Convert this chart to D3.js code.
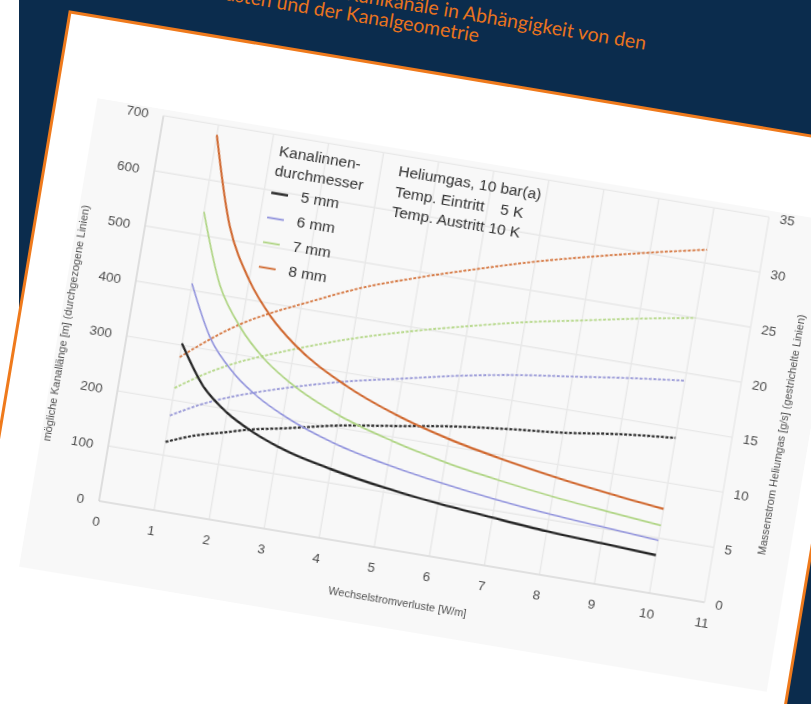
<!DOCTYPE html>
<html>
<head>
<meta charset="utf-8">
<script src="https://cdn.jsdelivr.net/npm/d3@7"></script>
<style>
  html, body { margin: 0; padding: 0; background: #ffffff; }
  svg { display: block; }
</style>
</head>
<body>
<svg id="chart" width="811" height="704"></svg>
<script>
// Wechselstromverluste [W/m]
const lossValues = [1, 1.5, 2, 2.5, 3, 4, 5, 6, 7, 8, 9, 10];

// mögliche Kanallänge [m] per inner diameter (solid lines)
const length5mm = [303, 234, 194, 168, 149, 125, 108, 96, 87, 79, 74, 69];
const length6mm = [412, 319, 266, 231, 206, 171, 149, 133, 120, 110, 103, 96];
const length7mm = [542, 417, 347, 300, 267, 222, 193, 171, 155, 142, 132, 123];
const length8mm = [682, 524, 435, 376, 334, 278, 240, 213, 193, 177, 164, 153];

// Massenstrom Heliumgas [g/s] per inner diameter (dashed lines)
const flow5mm = [6.2, 7.2, 7.9, 8.6, 9.1, 10.2, 11.0, 11.8, 12.4, 12.9, 13.6, 14.1];
const flow6mm = [8.6, 10.0, 11.1, 12.0, 12.8, 14.2, 15.3, 16.4, 17.3, 18.0, 18.7, 19.3];
const flow7mm = [11.1, 12.8, 14.2, 15.3, 16.3, 18.1, 19.6, 20.9, 22.1, 23.1, 24.1, 25.0];
const flow8mm = [13.9, 16.0, 17.8, 19.2, 20.4, 22.7, 24.5, 26.1, 27.6, 28.9, 30.1, 31.2];

const diameterLabels = ["5 mm", "6 mm", "7 mm", "8 mm"];
const seriesColors = ["#262626", "#8f91dc", "#aed482", "#d0672f"];
const dashColors = ["#333333", "#9c9cd8", "#b8d98e", "#d67a45"];

const xTicks = [0, 1, 2, 3, 4, 5, 6, 7, 8, 9, 10, 11];
const yLeftTicks = [0, 100, 200, 300, 400, 500, 600, 700];
const yRightTicks = [0, 5, 10, 15, 20, 25, 30, 35];

const titleLines = [
  "Mögliche Länge der Kühlkanäle in Abhängigkeit von den",
  "Wechselstromverlusten und der Kanalgeometrie"
];
const infoLines = ["Heliumgas, 10 bar(a)", "Temp. Eintritt", "Temp. Austritt 10 K"];

const lengthSeries = [length5mm, length6mm, length7mm, length8mm];
const flowSeries = [flow5mm, flow6mm, flow7mm, flow8mm];

const svg = d3.select("#chart");

// page background: white margin strip and navy panel
svg.append("rect").attr("x", 0).attr("y", 0).attr("width", 811).attr("height", 704).attr("fill", "#ffffff");
svg.append("rect").attr("x", 19).attr("y", 0).attr("width", 792).attr("height", 704).attr("fill", "#0b2c4d");

// blur for the printed chart
const defs = svg.append("defs");
defs.append("filter").attr("id", "soft")
  .attr("x", "-5%").attr("y", "-5%").attr("width", "110%").attr("height", "110%")
  .append("feGaussianBlur").attr("stdDeviation", 0.75);

// everything sits on a tilted sheet
const sheet = svg.append("g").attr("transform", "translate(99,501) rotate(9.5)");

// title on navy
sheet.append("g").selectAll("text").data(titleLines).join("text")
  .attr("x", (d, i) => i === 0 ? 464 : 298)
  .attr("y", (d, i) => i === 0 ? -535 : -515)
  .attr("text-anchor", "end")
  .attr("font-family", "Lato, 'Noto Sans', sans-serif")
  .attr("font-size", 19.5)
  .attr("fill", "#e8731e")
  .text(d => d);

// white card with orange border
sheet.append("rect")
  .attr("x", -109.3).attr("y", -477.5)
  .attr("width", 820).attr("height", 1000)
  .attr("fill", "#ffffff")
  .attr("stroke", "#ef7a1c").attr("stroke-width", 3);

const plot = sheet.append("g").attr("filter", "url(#soft)");

// faint chart image background
plot.append("rect")
  .attr("x", -68).attr("y", -397)
  .attr("width", 758).attr("height", 475)
  .attr("fill", "#f8f8f8");

const x = d3.scaleLinear().domain([0, 11]).range([0, 614]);
const yL = d3.scaleLinear().domain([0, 700]).range([0, -390.6]);
const yR = d3.scaleLinear().domain([0, 35]).range([0, -390.6]);

// grid
plot.append("g").selectAll("line").data(xTicks).join("line")
  .attr("x1", d => x(d)).attr("x2", d => x(d))
  .attr("y1", yL(0)).attr("y2", yL(700))
  .attr("stroke", "#e8e8e8").attr("stroke-width", 1.4);
plot.append("g").selectAll("line").data(yLeftTicks).join("line")
  .attr("x1", x(0)).attr("x2", x(11))
  .attr("y1", d => yL(d)).attr("y2", d => yL(d))
  .attr("stroke", "#e8e8e8").attr("stroke-width", 1.4);

// axis lines
plot.append("line").attr("x1", 0).attr("x2", 0).attr("y1", yL(0)).attr("y2", yL(700))
  .attr("stroke", "#d4d4d4").attr("stroke-width", 1.2);
plot.append("line").attr("x1", 0).attr("x2", x(11)).attr("y1", 0).attr("y2", 0)
  .attr("stroke", "#d4d4d4").attr("stroke-width", 1.2);

// axes
const tickFont = g => {
  g.select(".domain").remove();
  g.selectAll("text").attr("font-family", "'Liberation Sans', Arial, sans-serif")
    .attr("font-size", 13.5).attr("fill", "#4e4e4e");
};
plot.append("g")
  .call(d3.axisBottom(x).tickValues(xTicks).tickSize(0).tickPadding(15).tickFormat(d3.format("d")))
  .call(tickFont);
plot.append("g")
  .call(d3.axisLeft(yL).tickValues(yLeftTicks).tickSize(0).tickPadding(15).tickFormat(d3.format("d")))
  .call(tickFont);
plot.append("g").attr("transform", `translate(${x(11)},0)`)
  .call(d3.axisRight(yR).tickValues(yRightTicks).tickSize(0).tickPadding(11).tickFormat(d3.format("d")))
  .call(tickFont);

// axis titles
const axisTitle = (sel) => sel.attr("font-family", "'Liberation Sans', Arial, sans-serif")
  .attr("font-size", 11).attr("fill", "#505050").attr("text-anchor", "middle");
plot.append("text").call(axisTitle)
  .attr("transform", "translate(-58,-170) rotate(-90)")
  .text("mögliche Kanallänge [m] (durchgezogene Linien)");
plot.append("text").call(axisTitle)
  .attr("transform", "translate(666,-178) rotate(-90)")
  .text("Massenstrom Heliumgas [g/s] (gestrichelte Linien)");
plot.append("text").call(axisTitle)
  .attr("x", 311).attr("y", 54)
  .text("Wechselstromverluste [W/m]");

// dashed mass-flow lines
const flowLine = d3.line().x((d, i) => x(lossValues[i])).y(d => yR(d)).curve(d3.curveMonotoneX);
plot.append("g").selectAll("path").data(flowSeries).join("path")
  .attr("d", flowLine)
  .attr("fill", "none")
  .attr("stroke", (d, i) => dashColors[i])
  .attr("stroke-width", (d, i) => i === 0 ? 2.3 : 1.9)
  .attr("stroke-dasharray", "3 1.6");

// solid channel-length lines
const lengthLine = d3.line().x((d, i) => x(lossValues[i])).y(d => yL(d)).curve(d3.curveMonotoneX);
plot.append("g").selectAll("path").data(lengthSeries).join("path")
  .attr("d", lengthLine)
  .attr("fill", "none")
  .attr("stroke", (d, i) => seriesColors[i])
  .attr("stroke-width", (d, i) => [2.3, 1.5, 1.7, 2.1][i]);

// legend
const legendFont = "'Liberation Sans', Arial, sans-serif";
const legend = plot.append("g");
legend.append("text").attr("x", 120).attr("y", -370).text("Kanalinnen-");
legend.append("text").attr("x", 119).attr("y", -350).text("durchmesser");
const entries = legend.selectAll("g.entry").data(diameterLabels).join("g").attr("class", "entry")
  .attr("transform", (d, i) => `translate(0,${-328 + 25 * i})`);
entries.append("line").attr("x1", 119).attr("x2", 136).attr("y1", -4.5).attr("y2", -4.5)
  .attr("stroke", (d, i) => seriesColors[i]).attr("stroke-width", (d, i) => i === 0 ? 2.4 : 1.8);
entries.append("text").attr("x", 149).attr("y", 0).text(d => d);

legend.append("text").attr("x", 241).attr("y", -370).text(infoLines[0]);
legend.append("text").attr("x", 241).attr("y", -349).text(infoLines[1]);
const austritt = legend.append("text").attr("x", 241).attr("y", -329).text(infoLines[2]);
legend.selectAll("text").attr("font-family", legendFont).attr("font-size", 15.5).attr("fill", "#333333");
const endX = 241 + austritt.node().getComputedTextLength();
legend.append("text").attr("x", endX).attr("y", -349).attr("text-anchor", "end")
  .attr("font-family", legendFont).attr("font-size", 15.5).attr("fill", "#333333").text("5 K");
</script>
</body>
</html>
